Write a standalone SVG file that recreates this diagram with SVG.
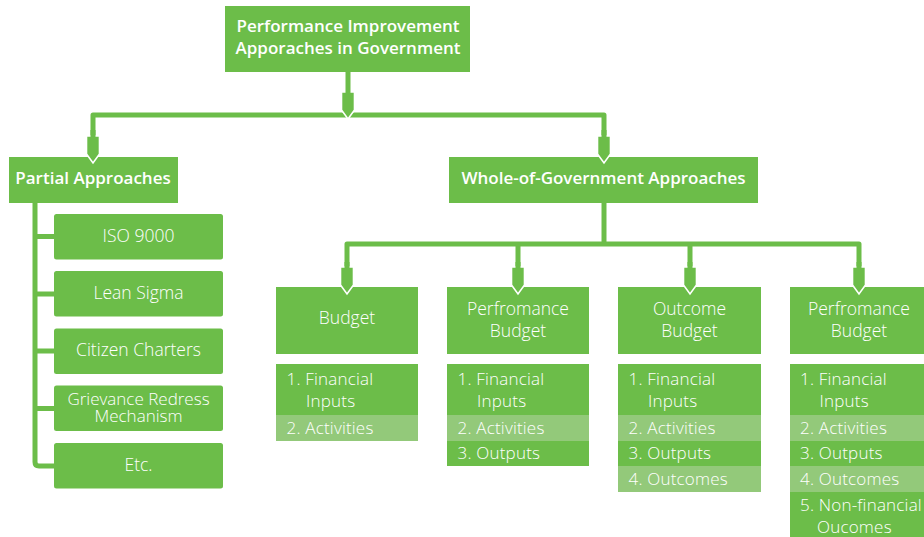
<svg xmlns="http://www.w3.org/2000/svg" width="924" height="537" viewBox="0 0 924 537">
  <style>
    .box { fill: #6cbd49; }
    .lite { fill: #93c97a; }
    .hd { font-family: "Open Sans", "Liberation Sans", sans-serif; font-weight: 600; font-size: 17px; fill: #ffffff; text-anchor: middle; }
    .tx { font-family: "Open Sans", "Liberation Sans", sans-serif; font-weight: 300; font-size: 17.5px; fill: #ffffff; text-anchor: middle; }
    .tx2 { font-family: "Open Sans", "Liberation Sans", sans-serif; font-weight: 300; font-size: 17px; fill: #ffffff; text-anchor: middle; }
    .li { font-family: "Open Sans", "Liberation Sans", sans-serif; font-weight: 300; font-size: 17px; letter-spacing: 0.2px; fill: #ffffff; }
    .ln { fill: none; stroke: #6cbd49; stroke-width: 5; stroke-linejoin: round; }
    .arw { fill: #6cbd49; stroke: #ffffff; stroke-width: 1.6; }
  </style>
  <defs>
    <!-- drop-arrow block, origin at its tip -->
    <path id="drop" d="M-6.5,-27 H6.5 V-9 L0,0 L-6.5,-9 Z"/>
  </defs>

  <rect width="924" height="537" fill="#ffffff"/>

  <!-- root -->
  <g id="root">
    <rect class="box" x="225" y="6" width="245" height="66"/>
    <text class="hd" x="348" y="32">Performance Improvement</text>
    <text class="hd" x="348" y="54">Apporaches in Government</text>
  </g>

  <!-- partial approaches branch -->
  <g id="partial">
    <rect class="box" x="9" y="157" width="169" height="46"/>
    <text class="hd" x="93" y="184">Partial Approaches</text>
  </g>
  <g id="iso">
    <rect class="box" x="54" y="214" width="169" height="45.5" rx="2.5"/>
    <text class="tx" x="138.5" y="241.5">ISO 9000</text>
  </g>
  <g id="lean">
    <rect class="box" x="54" y="271" width="169" height="45.5" rx="2.5"/>
    <text class="tx" x="138.5" y="299">Lean Sigma</text>
  </g>
  <g id="charters">
    <rect class="box" x="54" y="328.5" width="169" height="45.5" rx="2.5"/>
    <text class="tx" x="138.5" y="356">Citizen Charters</text>
  </g>
  <g id="grievance">
    <rect class="box" x="54" y="385.5" width="169" height="45.5" rx="2.5"/>
    <text class="tx2" x="138.5" y="404.5">Grievance Redress</text>
    <text class="tx2" x="138.5" y="422">Mechanism</text>
  </g>
  <g id="etc">
    <rect class="box" x="54" y="443" width="169" height="45.5" rx="2.5"/>
    <text class="tx" x="138.5" y="470.5">Etc.</text>
  </g>

  <!-- whole-of-government branch -->
  <g id="whole">
    <rect class="box" x="449" y="157" width="309" height="46"/>
    <text class="hd" x="603.5" y="184">Whole-of-Government Approaches</text>
  </g>

  <g id="budget">
    <rect class="box" x="276" y="287" width="142" height="67"/>
    <text class="tx" x="347" y="324">Budget</text>
    <rect class="box" x="276" y="364" width="142" height="51"/>
    <rect class="lite" x="276" y="415" width="142" height="26"/>
    <text class="li" x="286.5" y="385">1. Financial</text>
    <text class="li" x="306" y="407">Inputs</text>
    <text class="li" x="286.5" y="433.5">2. Activities</text>
  </g>

  <g id="perf-budget">
    <rect class="box" x="447" y="287" width="142" height="67"/>
    <text class="tx" x="518" y="315">Perfromance</text>
    <text class="tx" x="518" y="337">Budget</text>
    <rect class="box" x="447" y="364" width="142" height="51"/>
    <rect class="lite" x="447" y="415" width="142" height="26"/>
    <rect class="box" x="447" y="441" width="142" height="25"/>
    <text class="li" x="457.5" y="385">1. Financial</text>
    <text class="li" x="477" y="407">Inputs</text>
    <text class="li" x="457.5" y="433.5">2. Activities</text>
    <text class="li" x="457.5" y="459">3. Outputs</text>
  </g>

  <g id="outcome-budget">
    <rect class="box" x="618" y="287" width="143" height="67"/>
    <text class="tx" x="689.5" y="315">Outcome</text>
    <text class="tx" x="689.5" y="337">Budget</text>
    <rect class="box" x="618" y="364" width="143" height="51"/>
    <rect class="lite" x="618" y="415" width="143" height="26"/>
    <rect class="box" x="618" y="441" width="143" height="25"/>
    <rect class="lite" x="618" y="466" width="143" height="26"/>
    <text class="li" x="628.5" y="385">1. Financial</text>
    <text class="li" x="648" y="407">Inputs</text>
    <text class="li" x="628.5" y="433.5">2. Activities</text>
    <text class="li" x="628.5" y="459">3. Outputs</text>
    <text class="li" x="628.5" y="484.5">4. Outcomes</text>
  </g>

  <g id="perf-budget-2">
    <rect class="box" x="790" y="287" width="142" height="67"/>
    <text class="tx" x="859" y="315">Perfromance</text>
    <text class="tx" x="859" y="337">Budget</text>
    <rect class="box" x="790" y="364" width="142" height="51"/>
    <rect class="lite" x="790" y="415" width="142" height="26"/>
    <rect class="box" x="790" y="441" width="142" height="25"/>
    <rect class="lite" x="790" y="466" width="142" height="26"/>
    <rect class="box" x="790" y="492" width="142" height="50"/>
    <text class="li" x="800" y="385">1. Financial</text>
    <text class="li" x="819.5" y="407">Inputs</text>
    <text class="li" x="800" y="433.5">2. Activities</text>
    <text class="li" x="800" y="459">3. Outputs</text>
    <text class="li" x="800" y="484.5">4. Outcomes</text>
    <text class="li" x="800" y="511">5. Non-financial</text>
    <text class="li" x="817" y="533">Oucomes</text>
  </g>

  <!-- connectors -->
  <g id="connectors">
    <path class="ln" d="M93,136 V115 H604 V137"/>
    <path class="ln" d="M604,203 V244"/>
    <path class="ln" d="M347,268 V244 H859 V268"/>
    <path class="ln" d="M518,244 V268 M690,244 V268"/>
    <path class="ln" d="M35,203 V462 Q35,466 39,466 H55"/>
    <path class="ln" d="M35,236.5 H55 M35,294 H55 M35,351 H55 M35,408.5 H55"/>

    <use href="#drop" class="arw" x="348" y="119"/>
    <use href="#drop" class="arw" x="93" y="163"/>
    <use href="#drop" class="arw" x="604" y="163"/>
    <use href="#drop" class="arw" x="347" y="294"/>
    <use href="#drop" class="arw" x="518" y="294"/>
    <use href="#drop" class="arw" x="690" y="294"/>
    <use href="#drop" class="arw" x="859" y="294"/>

    <!-- stems over the arrow tops -->
    <path class="ln" d="M348,72 V94"/>
    <path class="ln" d="M93,130 V137"/>
    <path class="ln" d="M604,130 V137"/>
    <path class="ln" d="M347,262 V268 M518,262 V268 M690,262 V268 M859,262 V268"/>
  </g>
</svg>
